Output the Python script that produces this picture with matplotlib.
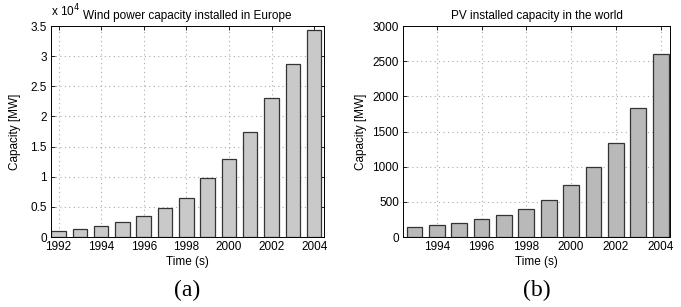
import matplotlib.pyplot as plt
import numpy as np

# data
wind_years = [1992, 1993, 1994, 1995, 1996, 1997, 1998, 1999, 2000, 2001, 2002, 2003, 2004]
wind_mw = [940, 1330, 1770, 2540, 3540, 4860, 6460, 9720, 12930, 17400, 23150, 28650, 34300]

pv_years = [1993, 1994, 1995, 1996, 1997, 1998, 1999, 2000, 2001, 2002, 2003, 2004]
pv_mw = [137, 166, 203, 251, 317, 397, 525, 733, 994, 1339, 1836, 2603]

wind_ticks = [0, 5000, 10000, 15000, 20000, 25000, 30000, 35000]
wind_ticklabels = ['0', '0.5', '1', '1.5', '2', '2.5', '3', '3.5']

plt.rcParams['font.family'] = ['Liberation Sans', 'DejaVu Sans']
plt.rcParams['font.size'] = 8.5

fig = plt.figure(figsize=(6.81, 3.07), dpi=100)

def style(ax, ylpad):
    ax.tick_params(direction='in', top=True, right=True, length=3, width=0.6, pad=3)
    ax.grid(True, linestyle=(0, (1, 3)), color='#aaaaaa', linewidth=0.8)
    ax.set_axisbelow(True)
    for s in ax.spines.values():
        s.set_linewidth(0.7)
    ax.set_xlabel('Time (s)', labelpad=2)
    ax.set_ylabel('Capacity [MW]', labelpad=ylpad)

# (a) wind
ax1 = fig.add_axes([0.075, 0.228, 0.401, 0.687])
ax1.bar(wind_years, wind_mw, width=0.68, color='#c9c9c9', edgecolor='#333333', linewidth=0.9)
ax1.set_xlim(1991.65, 2004.47)
ax1.set_ylim(0, 35000)
ax1.set_xticks(np.arange(1992, 2005, 2))
ax1.set_yticks(wind_ticks)
ax1.set_yticklabels(wind_ticklabels)
style(ax1, 7)
ax1.set_title('Wind power capacity installed in Europe', fontsize=8.5, pad=5)
ax1.text(0.0, 1.03, r'x 10$^{4}$', transform=ax1.transAxes, fontsize=8.5, ha='left', va='bottom')
fig.text(0.275, 0.035, '(a)', family='Liberation Serif', fontsize=17, ha='center')

# (b) PV
ax2 = fig.add_axes([0.592, 0.228, 0.392, 0.687])
ax2.bar(pv_years, pv_mw, width=0.7, color='#b9b9b9', edgecolor='#333333', linewidth=0.9)
ax2.set_xlim(1992.5, 2004.42)
ax2.set_ylim(0, 3000)
ax2.set_xticks(np.arange(1994, 2005, 2))
ax2.set_yticks(np.arange(0, 3001, 500))
style(ax2, 4)
ax2.set_title('PV installed capacity in the world', fontsize=8.5, pad=5)
fig.text(0.788, 0.035, '(b)', family='Liberation Serif', fontsize=17, ha='center')

fig.savefig('out.png', dpi=100)
